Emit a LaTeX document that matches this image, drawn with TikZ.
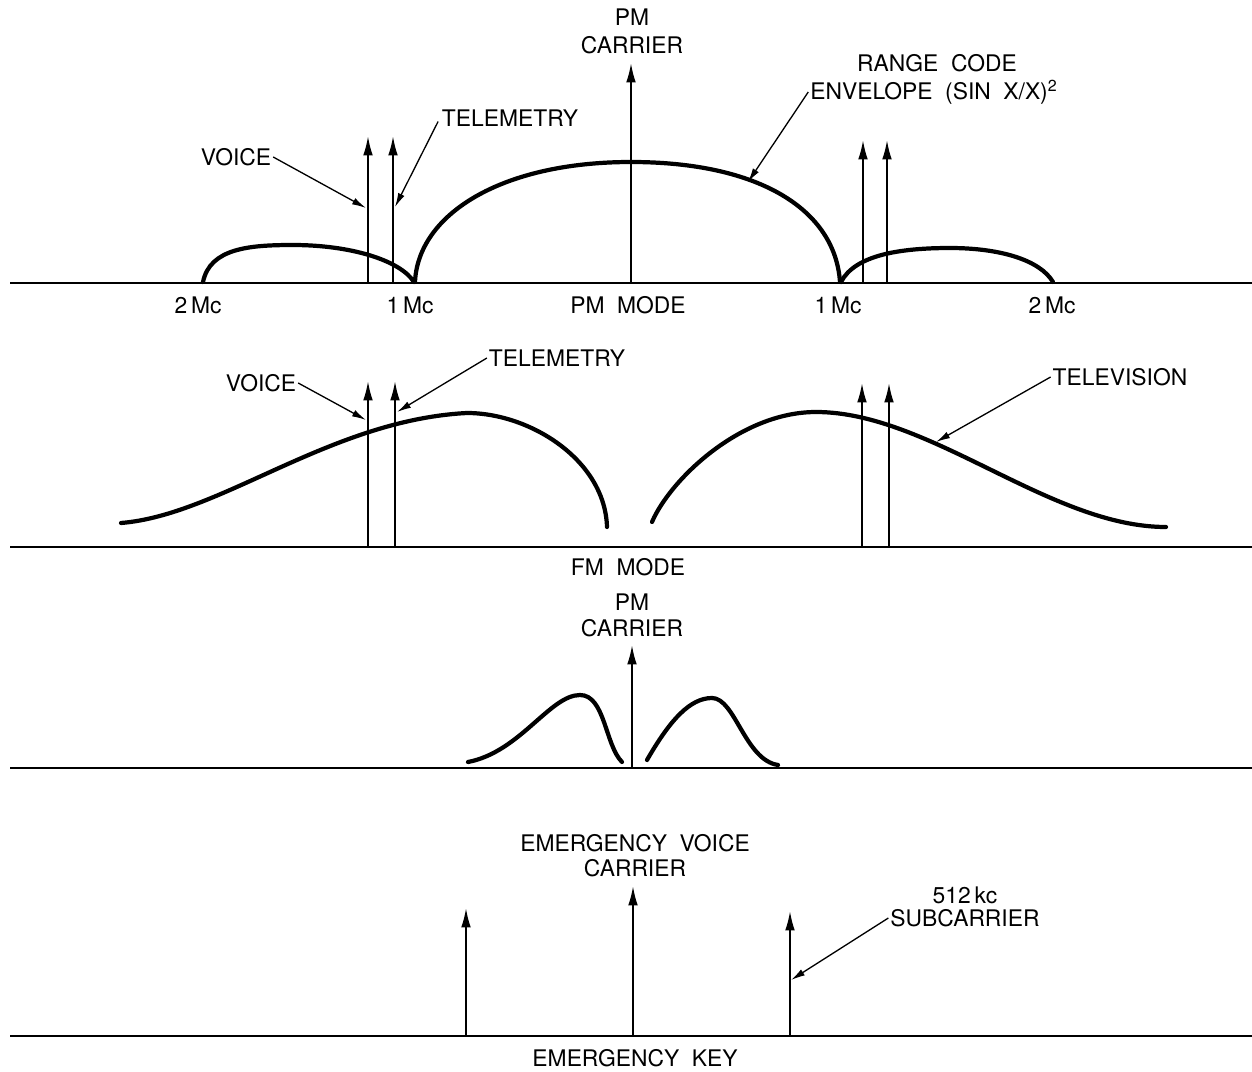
\documentclass[tikz,border=0pt]{standalone}
\usepackage{fontspec}
\setmainfont{TeX Gyre Heros}
\usetikzlibrary{arrows.meta}
\newcommand\labfont{\fontsize{13}{15}\selectfont\spaceskip=0.55em\relax}

\begin{document}
\begin{tikzpicture}[x=0.02cm, y=-0.02cm, >={Latex[length=11pt,width=5.5pt]},
  lab/.style={font=\labfont, inner sep=1pt},
  axis/.style={line width=1.3pt},
  carrier/.style={->, line width=1.1pt},
  lobe/.style={line width=2.4pt, line cap=round},
  leader/.style={->, line width=0.75pt, >={Latex[length=8pt,width=4pt]}}]

\useasboundingbox (0,0) rectangle (1252,1072);

% Modo PM
\coordinate (a1l) at (10,283);
\coordinate (a1r) at (1252,283);
\draw[axis] (a1l) -- (a1r);

\node[lab] (pm1) at (632,17) {PM};
\node[lab] (car1) at (632,45) {CARRIER};
\node[lab] (mc2l) at (198,305) {2\,Mc};
\node[lab] (mc1l) at (410,305) {1\,Mc};
\node[lab] (pmmode) at (628,305) {PM MODE};
\node[lab] (mc1r) at (838,305) {1\,Mc};
\node[lab] (mc2r) at (1052,305) {2\,Mc};
\node[lab] (voice1) at (236,157) {VOICE};
\node[lab] (tele1) at (510,118) {TELEMETRY};
\node[lab] (range) at (937,63) {RANGE CODE};
\node[lab] (env) at (934,92) {ENVELOPE (SIN X/X)\textsuperscript{2}};

\draw[lobe] (203,282) .. controls (210,248) and (250,245) .. (293,245)
  .. controls (350,245) and (400,260) .. (414,282);
\draw[lobe] (415,282) .. controls (418,215) and (500,162) .. (631,162)
  .. controls (760,162) and (835,210) .. (840,282);
\draw[lobe] (841,282) .. controls (855,255) and (900,248) .. (950,248)
  .. controls (1000,248) and (1040,260) .. (1053,282);

\coordinate (c1b) at (631,283);  \coordinate (c1t) at (631,63);
\coordinate (v1b) at (368,283);  \coordinate (v1t) at (368,136);
\coordinate (t1b) at (393,283);  \coordinate (t1t) at (393,136);
\coordinate (r1b) at (863,283);  \coordinate (r1t) at (863,140);
\coordinate (s1b) at (887,283);  \coordinate (s1t) at (887,140);
\draw[carrier] (c1b) -- (c1t);
\draw[carrier] (v1b) -- (v1t);
\draw[carrier] (t1b) -- (t1t);
\draw[carrier] (r1b) -- (r1t);
\draw[carrier] (s1b) -- (s1t);

\coordinate (v1m) at (366,208);
\coordinate (t1m) at (395,207);
\coordinate (e1m) at (748,182);
\draw[leader] (voice1.east) -- (v1m);
\draw[leader] ([xshift=-1pt,yshift=-2pt]tele1.west) -- (t1m);
\draw[leader] (env.west) -- (e1m);

% Modo FM
\coordinate (a2l) at (10,547);
\coordinate (a2r) at (1252,547);
\draw[axis] (a2l) -- (a2r);

\node[lab] (fmmode) at (628,567) {FM MODE};
\node[lab] (voice2) at (261,383) {VOICE};
\node[lab] (tele2) at (557,358) {TELEMETRY};
\node[lab] (tv) at (1120,377) {TELEVISION};

\draw[lobe] (121,523) .. controls (220,515) and (330,420) .. (467,413)
  .. controls (530,413) and (605,460) .. (607,527);
\draw[lobe] (652,522) .. controls (670,480) and (740,412) .. (816,412)
  .. controls (930,412) and (1050,527) .. (1166,527);

\coordinate (v2b) at (368,547);  \coordinate (v2t) at (368,381);
\coordinate (t2b) at (395,547);  \coordinate (t2t) at (395,381);
\coordinate (r2b) at (862,547);  \coordinate (r2t) at (862,383);
\coordinate (s2b) at (889,547);  \coordinate (s2t) at (889,383);
\draw[carrier] (v2b) -- (v2t);
\draw[carrier] (t2b) -- (t2t);
\draw[carrier] (r2b) -- (r2t);
\draw[carrier] (s2b) -- (s2t);

\coordinate (v2m) at (366,420);
\coordinate (t2m) at (397,412);
\coordinate (tvm) at (936,442);
\draw[leader] (voice2.east) -- (v2m);
\draw[leader] (tele2.west) -- (t2m);
\draw[leader] (tv.west) -- (tvm);

% Portante PM
\coordinate (a3l) at (10,768);
\coordinate (a3r) at (1252,768);
\draw[axis] (a3l) -- (a3r);

\node[lab] (pm3) at (632,602) {PM};
\node[lab] (car3) at (632,628) {CARRIER};

\draw[lobe] (468,762) .. controls (520,752) and (550,695) .. (580,695)
  .. controls (605,695) and (605,745) .. (622,762);
\draw[lobe] (647,760) .. controls (670,720) and (690,698) .. (712,698)
  .. controls (735,698) and (745,760) .. (778,765);

\coordinate (c3b) at (632,768);  \coordinate (c3t) at (632,645);
\draw[carrier] (c3b) -- (c3t);

% Tasto di emergenza
\coordinate (a4l) at (10,1036);
\coordinate (a4r) at (1252,1036);
\draw[axis] (a4l) -- (a4r);

\node[lab] (emv) at (635,843) {EMERGENCY VOICE};
\node[lab] (car4) at (635,868) {CARRIER};
\node[lab] (kc) at (965,895) {512\,kc};
\node[lab] (sub) at (965,918) {SUBCARRIER};
\node[lab] (emkey) at (635,1058) {EMERGENCY KEY};

\coordinate (l4b) at (466,1036);  \coordinate (l4t) at (466,908);
\coordinate (c4b) at (633,1036);  \coordinate (c4t) at (633,886);
\coordinate (r4b) at (790,1036);  \coordinate (r4t) at (790,911);
\draw[carrier] (l4b) -- (l4t);
\draw[carrier] (c4b) -- (c4t);
\draw[carrier] (r4b) -- (r4t);

\coordinate (subm) at (791,980);
\draw[leader] (sub.west) -- (subm);

\end{tikzpicture}
\end{document}
